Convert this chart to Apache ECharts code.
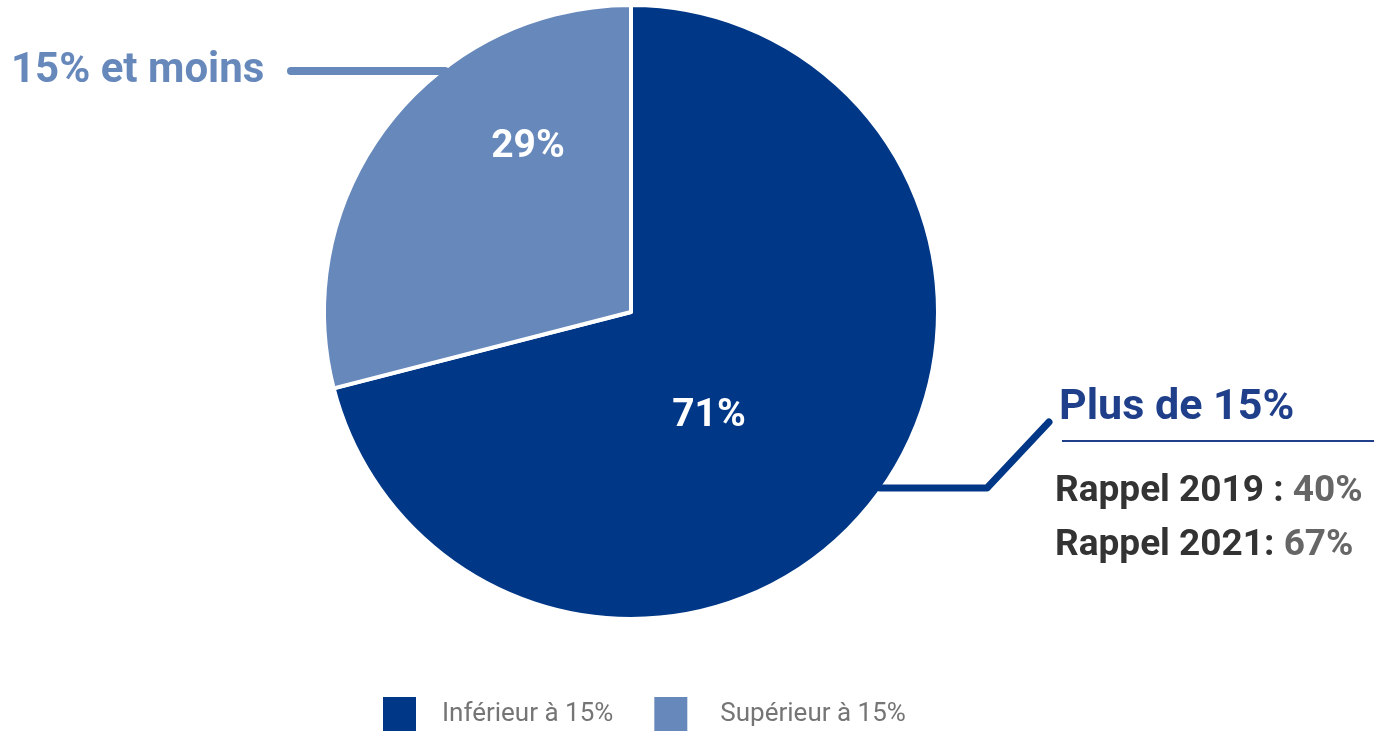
<!DOCTYPE html>
<html>
<head>
<meta charset="utf-8">
<title>Répartition</title>
<script src="https://cdn.jsdelivr.net/npm/echarts@6/dist/echarts.min.js"></script>
<style>
  html, body { margin: 0; padding: 0; background: #ffffff; }
  #chart { width: 1374px; height: 732px; }
</style>
</head>
<body>
<div id="chart"></div>
<script>
// Categories and shares (%)
const categories = ['Inférieur à 15%', 'Supérieur à 15%'];
const shares = [71, 29];
const sliceColors = ['#003787', '#6788BB'];

// Callout texts
const lowLabel = '15% et moins';
const highLabel = 'Plus de 15%';
const recallYears = ['Rappel 2019 : ', 'Rappel 2021: '];
const recallValues = ['40%', '67%'];

// Where the in-slice percentage labels sit
const labelSpots = [[709, 416], [528, 147]];

const FONT = 'Roboto, "Noto Sans", sans-serif';
const chart = echarts.init(document.getElementById('chart'));

const graphics = [
  // "15% et moins" callout
  {
    type: 'line', z: 10,
    shape: { x1: 291, y1: 71, x2: 445, y2: 71 },
    style: { stroke: '#6788BB', lineWidth: 8, lineCap: 'round' }
  },
  {
    type: 'text', x: 11, y: 71, z: 10,
    style: { text: lowLabel, fill: '#6788BB', font: 'bold 42px ' + FONT, verticalAlign: 'middle' }
  },
  // "Plus de 15%" callout
  {
    type: 'polyline', z: 10,
    shape: { points: [[880, 488], [987, 488], [1049, 422]] },
    style: { stroke: '#003787', lineWidth: 7, lineCap: 'round', lineJoin: 'round', fill: null }
  },
  {
    type: 'text', x: 1059, y: 408, z: 10,
    style: { text: highLabel, fill: '#1F3F8A', font: 'bold 43px ' + FONT, verticalAlign: 'middle' }
  },
  {
    type: 'line', z: 10,
    shape: { x1: 1062, y1: 441, x2: 1374, y2: 441 },
    style: { stroke: '#1F3F8A', lineWidth: 2 }
  }
];

recallYears.forEach(function (yr, i) {
  graphics.push({
    type: 'text', x: 1055, y: 492 + i * 54, z: 10,
    style: {
      text: '{a|' + yr + '}{b|' + recallValues[i] + '}',
      verticalAlign: 'middle',
      rich: {
        a: { fill: '#333333', font: 'bold 37px ' + FONT },
        b: { fill: '#666666', font: 'bold 37px ' + FONT }
      }
    }
  });
});

chart.setOption({
  animation: false,
  color: sliceColors,
  legend: {
    top: 695,
    left: 381,
    padding: 0,
    itemWidth: 35,
    itemHeight: 36,
    itemGap: 39,
    icon: 'rect',
    selectedMode: false,
    textStyle: { color: '#757575', fontSize: 26, fontFamily: FONT },
    data: [
      { name: categories[0], textStyle: { padding: [0, 0, 0, 20] } },
      { name: categories[1], textStyle: { padding: [4, 0, 0, 27] } }
    ]
  },
  graphic: graphics,
  series: [{
    type: 'pie',
    center: [631, 312],
    radius: [0, 307],
    startAngle: 90,
    clockwise: true,
    silent: true,
    itemStyle: { borderColor: '#ffffff', borderWidth: 4 },
    label: {
      position: 'inside',
      formatter: '{c}%',
      color: '#ffffff',
      fontSize: 39,
      fontWeight: 'bold',
      fontFamily: FONT
    },
    labelLine: { show: false },
    labelLayout: function (p) {
      const s = labelSpots[p.dataIndex];
      return { x: s[0], y: s[1], align: 'center', verticalAlign: 'middle' };
    },
    data: categories.map(function (c, i) { return { name: c, value: shares[i] }; })
  }]
});
</script>
</body>
</html>
